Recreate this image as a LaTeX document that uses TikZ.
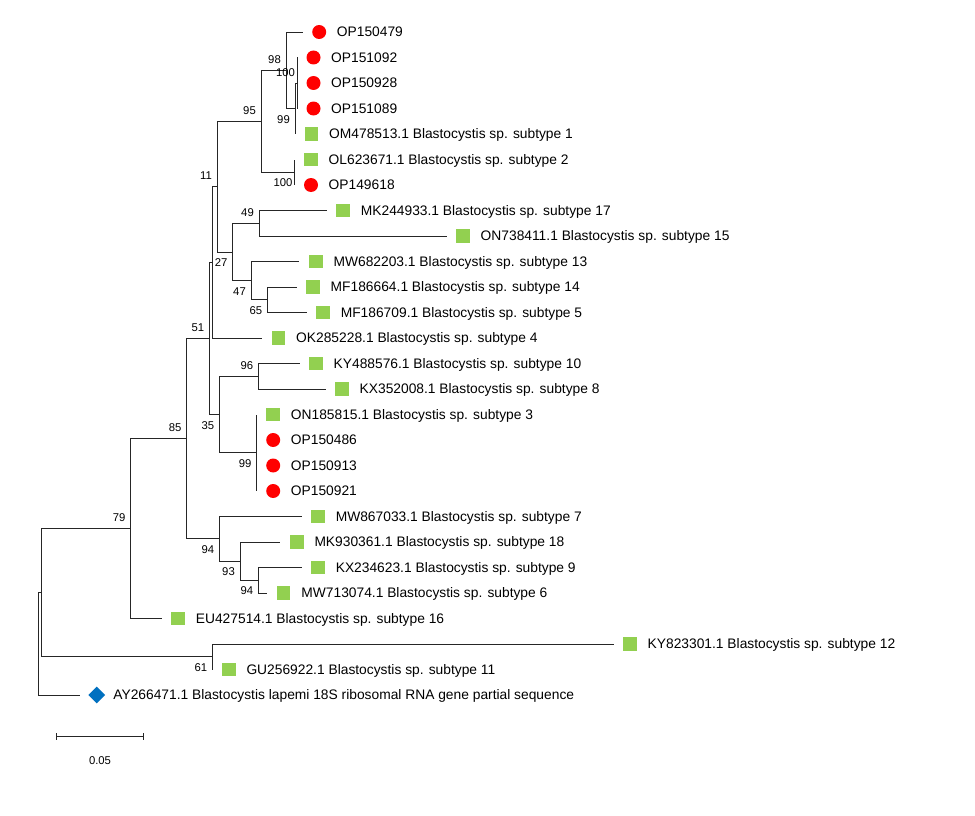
\documentclass[tikz,border=0pt]{standalone}
\usepackage{fontspec}
\setmainfont{Liberation Sans}
\usetikzlibrary{shapes.geometric,calc}
\definecolor{mygreen}{RGB}{146,208,80}
\definecolor{myblue}{RGB}{0,112,192}
\tikzset{
  br/.style={line width=0.8pt, draw=black!85},
  redm/.style={circle, fill=red, minimum size=14pt, inner sep=0pt},
  grnm/.style={rectangle, fill=mygreen, minimum size=13.5pt, inner sep=0pt},
  blum/.style={diamond, aspect=1, fill=myblue, minimum width=17pt, minimum height=17pt, inner sep=0pt},
  lab/.style={anchor=west, inner sep=0pt, text height=9.9pt, text depth=0pt, font=\fontsize{13.8}{16}\selectfont},
  bs/.style={inner sep=0pt, text height=8.1pt, text depth=0pt, font=\fontsize{11.3}{13}\selectfont},
}
\newcommand{\leafnode}[5]{%
  \coordinate (t#1) at (#2,#3);
  \node[#4] (m#1) at (#2+16.5,#3) {};
  \node[lab] (l#1) at (#2+34,#3) {#5};}
\newcommand{\bsup}[2]{\node[bs] at ($(#1)+(-11.5,-11)$) {#2};}
\newcommand{\bsdn}[2]{\node[bs] at ($(#1)+(-11.5,10.5)$) {#2};}
\begin{document}
\begin{tikzpicture}[x=1pt,y=-1pt]
\fill[white] (0,0) rectangle (975,816);
\useasboundingbox (0,0) rectangle (975,816);
% leaves
\leafnode{0}{302.7}{32}{redm}{OP150479}
\leafnode{1}{297}{57.5}{redm}{OP151092}
\leafnode{2}{297}{83}{redm}{OP150928}
\leafnode{3}{297}{108.5}{redm}{OP151089}
\leafnode{4}{295}{134}{grnm}{OM478513.1 Blastocystis sp. subtype 1}
\leafnode{5}{294.5}{159.5}{grnm}{OL623671.1 Blastocystis sp. subtype 2}
\leafnode{6}{294.5}{185}{redm}{OP149618}
\leafnode{7}{326.7}{210.5}{grnm}{MK244933.1 Blastocystis sp. subtype 17}
\leafnode{8}{446.5}{236}{grnm}{ON738411.1 Blastocystis sp. subtype 15}
\leafnode{9}{299.4}{261.5}{grnm}{MW682203.1 Blastocystis sp. subtype 13}
\leafnode{10}{296.5}{287}{grnm}{MF186664.1 Blastocystis sp. subtype 14}
\leafnode{11}{306.6}{312.5}{grnm}{MF186709.1 Blastocystis sp. subtype 5}
\leafnode{12}{262}{338}{grnm}{OK285228.1 Blastocystis sp. subtype 4}
\leafnode{13}{299.5}{363.5}{grnm}{KY488576.1 Blastocystis sp. subtype 10}
\leafnode{14}{325.5}{389}{grnm}{KX352008.1 Blastocystis sp. subtype 8}
\leafnode{15}{256.7}{414.5}{grnm}{ON185815.1 Blastocystis sp. subtype 3}
\leafnode{16}{256.7}{440}{redm}{OP150486}
\leafnode{17}{256.7}{465.5}{redm}{OP150913}
\leafnode{18}{256.7}{491}{redm}{OP150921}
\leafnode{19}{301.6}{516.5}{grnm}{MW867033.1 Blastocystis sp. subtype 7}
\leafnode{20}{280.3}{542}{grnm}{MK930361.1 Blastocystis sp. subtype 18}
\leafnode{21}{301.6}{567.5}{grnm}{KX234623.1 Blastocystis sp. subtype 9}
\leafnode{22}{267.2}{593}{grnm}{MW713074.1 Blastocystis sp. subtype 6}
\leafnode{23}{161.7}{618.5}{grnm}{EU427514.1 Blastocystis sp. subtype 16}
\leafnode{24}{613.5}{644}{grnm}{KY823301.1 Blastocystis sp. subtype 12}
\leafnode{25}{212.3}{669.5}{grnm}{GU256922.1 Blastocystis sp. subtype 11}
\coordinate (t26) at (80,695);
\node[blum] (m26) at (96.7,695) {};
\node[lab] (l26) at (113.2,695) {AY266471.1 Blastocystis lapemi 18S ribosomal RNA gene partial sequence};
% internal nodes
\coordinate (n100a) at (297,83);
\coordinate (n99a) at (295,108.5);
\coordinate (n98) at (286,70.25);
\coordinate (n100b) at (294.5,172.25);
\coordinate (n95) at (261,121.25);
\coordinate (n49) at (259,223.25);
\coordinate (n65) at (267.3,299.75);
\coordinate (n47) at (251,280.6);
\coordinate (n27) at (232.7,251.9);
\coordinate (n11) at (217.5,186.6);
\coordinate (nN) at (212.7,262.3);
\coordinate (n96) at (258.3,376.25);
\coordinate (n99b) at (256.7,452.75);
\coordinate (n35) at (219.3,414.5);
\coordinate (n51) at (209.3,338.4);
\coordinate (n94b) at (258.3,580.25);
\coordinate (n93) at (240,561.1);
\coordinate (n94) at (219.3,538.8);
\coordinate (n85) at (186.7,438.6);
\coordinate (n79) at (130.7,528.55);
\coordinate (n61) at (212.3,656.75);
\coordinate (nR1) at (41,592.65);
\coordinate (root) at (38.5,643.8);
% branches
\draw[br] (root) |- (nR1);
\draw[br] (root) |- (t26);
\draw[br] (nR1) |- (n79);
\draw[br] (nR1) |- (n61);
\draw[br] (n61) |- (t24);
\draw[br] (n61) |- (t25);
\draw[br] (n79) |- (n85);
\draw[br] (n79) |- (t23);
\draw[br] (n85) |- (n51);
\draw[br] (n85) |- (n94);
\draw[br] (n94) |- (t19);
\draw[br] (n94) |- (n93);
\draw[br] (n93) |- (t20);
\draw[br] (n93) |- (n94b);
\draw[br] (n94b) |- (t21);
\draw[br] (n94b) |- (t22);
\draw[br] (n51) |- (nN);
\draw[br] (n51) |- (n35);
\draw[br] (n35) |- (n96);
\draw[br] (n35) |- (n99b);
\draw[br] (n96) |- (t13);
\draw[br] (n96) |- (t14);
\draw[br] (n99b) |- (t15);
\draw[br] (n99b) |- (t16);
\draw[br] (n99b) |- (t17);
\draw[br] (n99b) |- (t18);
\draw[br] (nN) |- (n11);
\draw[br] (nN) |- (t12);
\draw[br] (n11) |- (n95);
\draw[br] (n11) |- (n27);
\draw[br] (n27) |- (n49);
\draw[br] (n27) |- (n47);
\draw[br] (n49) |- (t7);
\draw[br] (n49) |- (t8);
\draw[br] (n47) |- (t9);
\draw[br] (n47) |- (n65);
\draw[br] (n65) |- (t10);
\draw[br] (n65) |- (t11);
\draw[br] (n95) |- (n98);
\draw[br] (n95) |- (n100b);
\draw[br] (n100b) |- (t5);
\draw[br] (n100b) |- (t6);
\draw[br] (n98) |- (t0);
\draw[br] (n98) |- (n99a);
\draw[br] (n99a) |- (n100a);
\draw[br] (n99a) |- (t4);
\draw[br] (n100a) |- (t1);
\draw[br] (n100a) |- (t2);
\draw[br] (n100a) |- (t3);
% bootstrap values
\bsup{n98}{98}
\bsup{n100a}{100}
\bsdn{n99a}{99}
\bsup{n95}{95}
\bsdn{n100b}{100}
\bsup{n11}{11}
\bsdn{n27}{27}
\bsup{n49}{49}
\bsdn{n47}{47}
\bsdn{n65}{65}
\bsup{n51}{51}
\bsdn{n35}{35}
\bsup{n96}{96}
\bsdn{n99b}{99}
\bsup{n85}{85}
\bsdn{n94}{94}
\bsdn{n93}{93}
\bsdn{n94b}{94}
\bsup{n79}{79}
\bsdn{n61}{61}
% scale bar
\coordinate (sb1) at (56.7,736.7);
\coordinate (sb2) at (143.3,736.7);
\draw[br] (sb1) -- (sb2);
\draw[br] ($(sb1)+(0,-3.5)$) -- ($(sb1)+(0,3.5)$);
\draw[br] ($(sb2)+(0,-3.5)$) -- ($(sb2)+(0,3.5)$);
\node[bs] (sbl) at (100,760.7) {0.05};
\end{tikzpicture}
\end{document}
